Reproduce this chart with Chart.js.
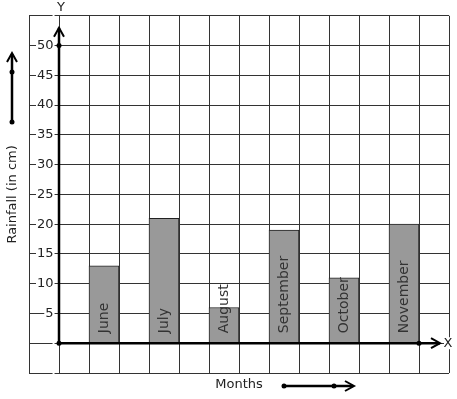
<!DOCTYPE html>
<html>
<head>
<meta charset="utf-8">
<script src="https://cdn.jsdelivr.net/npm/chart.js@4/dist/chart.umd.min.js"></script>
<style>
  html, body { margin: 0; padding: 0; background: #fff; }
  #wrap { width: 457px; height: 399px; }
</style>
</head>
<body>
<div id="wrap"><canvas id="c" width="457" height="399"></canvas></div>
<script>
const months = ['June', 'July', 'August', 'September', 'October', 'November'];
const rainfall = [13, 21, 6, 19, 11, 20];
const yTickLabels = [5, 10, 15, 20, 25, 30, 35, 40, 45, 50];
const yTitle = 'Rainfall (in cm)';
const xTitle = 'Months';

// each month occupies every second grid column to the right of the Y axis
const barData = months.map((m, i) => ({ x: 2 * i + 1.5, y: rainfall[i] }));

const FONT = 'DejaVu Sans';
const GRID = '#333';

function arrowHead(ctx, tipX, tipY, dir, len, half) {
  ctx.beginPath();
  if (dir === 'up') {
    ctx.moveTo(tipX - half, tipY + len); ctx.lineTo(tipX, tipY); ctx.lineTo(tipX + half, tipY + len);
  } else {
    ctx.moveTo(tipX - len, tipY - half); ctx.lineTo(tipX, tipY); ctx.lineTo(tipX - len, tipY + half);
  }
  ctx.stroke();
}
function dot(ctx, x, y, r) {
  ctx.beginPath(); ctx.arc(x, y, r, 0, Math.PI * 2); ctx.fill();
}

const decor = {
  id: 'decor',
  afterDatasetsDraw(chart) {
    const ctx = chart.ctx;
    const xs = chart.scales.x, ys = chart.scales.y;
    const meta = chart.getDatasetMeta(0);
    const x0 = xs.getPixelForValue(0), y0 = ys.getPixelForValue(0);
    const yTop = ys.getPixelForValue(53);
    const xEnd = xs.getPixelForValue(12.7);
    ctx.save();
    // month labels inside bars
    ctx.fillStyle = '#333';
    ctx.font = '14px "' + FONT + '"';
    ctx.textAlign = 'left';
    ctx.textBaseline = 'middle';
    meta.data.forEach((bar, i) => {
      ctx.save();
      ctx.translate(bar.x, y0 - 10);
      ctx.rotate(-Math.PI / 2);
      ctx.fillText(months[i], 0, 0);
      ctx.restore();
    });
    // axes
    ctx.strokeStyle = '#000';
    ctx.fillStyle = '#000';
    ctx.lineWidth = 2.5;
    ctx.lineCap = 'butt';
    ctx.beginPath(); ctx.moveTo(x0, y0); ctx.lineTo(x0, yTop); ctx.stroke();
    ctx.beginPath(); ctx.moveTo(x0, y0); ctx.lineTo(xEnd, y0); ctx.stroke();
    ctx.lineWidth = 2;
    arrowHead(ctx, x0, yTop, 'up', 9, 5);
    arrowHead(ctx, xEnd, y0, 'right', 9, 5);
    dot(ctx, x0, y0, 2.5);
    dot(ctx, x0, ys.getPixelForValue(50), 2.5);
    dot(ctx, xs.getPixelForValue(12), y0, 2.5);
    // X / Y labels with white backdrop
    ctx.font = '13px "' + FONT + '"';
    ctx.textAlign = 'center';
    ctx.textBaseline = 'middle';
    ctx.fillStyle = '#fff';
    ctx.fillRect(x0 - 4, 2, 10, 12);
    ctx.fillRect(xs.getPixelForValue(13) - 5, y0 - 6, 10, 12);
    ctx.fillStyle = '#222';
    ctx.fillText('Y', x0 + 2, 8);
    ctx.fillText('X', xs.getPixelForValue(13) - 1, y0);
    // decorative direction arrows next to the axis titles
    ctx.strokeStyle = '#000';
    ctx.fillStyle = '#000';
    ctx.lineWidth = 2.5;
    const ax = 12;
    ctx.beginPath(); ctx.moveTo(ax, 122); ctx.lineTo(ax, 54); ctx.stroke();
    ctx.lineWidth = 2;
    arrowHead(ctx, ax, 53, 'up', 9, 5);
    dot(ctx, ax, 122, 2.5); dot(ctx, ax, 72, 2.5);
    ctx.lineWidth = 2.5;
    const ay = 386;
    ctx.beginPath(); ctx.moveTo(284, ay); ctx.lineTo(353, ay); ctx.stroke();
    ctx.lineWidth = 2;
    arrowHead(ctx, 354, ay, 'right', 9, 5);
    dot(ctx, 284, ay, 2.5); dot(ctx, 334, ay, 2.5);
    ctx.restore();
  }
};

new Chart(document.getElementById('c'), {
  type: 'bar',
  data: {
    datasets: [{
      data: barData,
      backgroundColor: '#999999',
      borderColor: '#222',
      borderWidth: 1,
      categoryPercentage: 1,
      barPercentage: 1
    }]
  },
  options: {
    responsive: false,
    animation: false,
    devicePixelRatio: 1,
    layout: { padding: { top: 13, right: 8, left: 0, bottom: 0 } },
    plugins: { legend: { display: false }, tooltip: { enabled: false } },
    scales: {
      x: {
        type: 'linear',
        min: -1, max: 13,
        offset: false,
        ticks: { display: false, stepSize: 1, maxTicksLimit: 100 },
        grid: { color: GRID, lineWidth: 1, drawTicks: false, offset: false },
        border: { display: false },
        title: { display: true, text: xTitle, color: '#222', font: { family: FONT, size: 13 }, padding: { top: 0, bottom: 7 } },
        afterFit(s) { s.height = 26; }
      },
      y: {
        min: -5, max: 55,
        ticks: {
          stepSize: 5,
          mirror: true,
          crossAlign: 'far',
          padding: 8,
          color: '#222',
          font: { family: FONT, size: 13 },
          showLabelBackdrop: true,
          backdropColor: '#fff',
          backdropPadding: { left: 1, right: 1, top: 0, bottom: 0 },
          callback: (v) => yTickLabels.includes(v) ? String(v) : ''
        },
        grid: { color: GRID, lineWidth: 1, drawTicks: false },
        border: { display: false },
        title: { display: true, text: yTitle, color: '#222', font: { family: FONT, size: 13 }, padding: { top: 5, bottom: 0 } },
        afterFit(s) { s.width = 29; }
      }
    }
  },
  plugins: [decor]
});
</script>
</body>
</html>
